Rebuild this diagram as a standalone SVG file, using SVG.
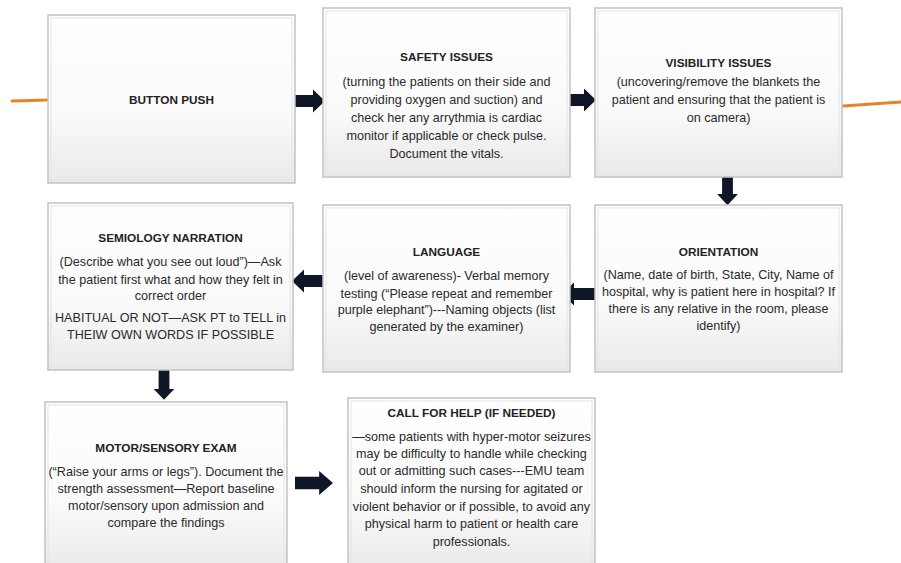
<svg xmlns="http://www.w3.org/2000/svg" width="901" height="563" viewBox="0 0 901 563">
<defs>
<linearGradient id="boxfill" x1="0" y1="0" x2="0" y2="1">
<stop offset="0" stop-color="#ffffff"/>
<stop offset="0.6" stop-color="#fafafa"/>
<stop offset="1" stop-color="#e9e9e9"/>
</linearGradient>
<path id="arrR" d="M0,-6 H21 V-11.5 L33,0 L21,11.5 V6 H0 Z"/>
</defs>
<style>
.box{fill:url(#boxfill);stroke:#c2c2c2;stroke-width:1.5}
.inner{fill:none;stroke:#e4e4e4;stroke-width:1}
.t{font-family:"Liberation Sans",Arial,sans-serif;font-weight:bold;font-size:11.8px;fill:#222222;text-anchor:middle}
.b{font-family:"Liberation Sans",Arial,sans-serif;font-size:12.6px;fill:#2a2a2a;text-anchor:middle}
.arr{fill:#0e1628}
.orange{stroke:#e8822a;stroke-width:3;stroke-linecap:round;fill:none}
</style>
<rect width="901" height="563" fill="#ffffff"/>

<g id="connectors">
<line class="orange" x1="12" y1="101" x2="48" y2="100"/>
<line class="orange" x1="843" y1="106" x2="901" y2="102"/>
<use href="#arrR" class="arr" transform="translate(292,101)"/>
<use href="#arrR" class="arr" transform="translate(563,100)"/>
<use href="#arrR" class="arr" transform="translate(727.5,174) rotate(90) scale(0.95,0.9)"/>
<use href="#arrR" class="arr" transform="translate(595,294) rotate(180)"/>
<use href="#arrR" class="arr" transform="translate(325,281) rotate(180)"/>
<use href="#arrR" class="arr" transform="translate(164,370) rotate(90) scale(0.9,0.9)"/>
<use href="#arrR" class="arr" transform="translate(295,483) scale(1.15,1.05)"/>
</g>

<g id="button-push">
<rect class="box" x="48" y="15" width="247" height="168"/>
<rect class="inner" x="51" y="18" width="241" height="162"/>
<text class="t" x="171.5" y="104">BUTTON PUSH</text>
</g>

<g id="safety-issues">
<rect class="box" x="323" y="8" width="247" height="169"/>
<rect class="inner" x="326" y="11" width="241" height="163"/>
<text class="t" x="446.5" y="61">SAFETY ISSUES</text>
<text class="b" x="446.5" y="86">(turning the patients on their side and</text>
<text class="b" x="446.5" y="104">providing oxygen and suction) and</text>
<text class="b" x="446.5" y="122">check her any arrythmia is cardiac</text>
<text class="b" x="446.5" y="140">monitor if applicable or check pulse.</text>
<text class="b" x="446.5" y="158">Document the vitals.</text>
</g>

<g id="visibility-issues">
<rect class="box" x="595" y="8" width="247" height="169"/>
<rect class="inner" x="598" y="11" width="241" height="163"/>
<text class="t" x="718.5" y="67">VISIBILITY ISSUES</text>
<text class="b" x="718.5" y="86">(uncovering/remove the blankets the</text>
<text class="b" x="718.5" y="104">patient and ensuring that the patient is</text>
<text class="b" x="718.5" y="122">on camera)</text>
</g>

<g id="orientation">
<rect class="box" x="595" y="205" width="247" height="167"/>
<rect class="inner" x="598" y="208" width="241" height="161"/>
<text class="t" x="718.5" y="256">ORIENTATION</text>
<text class="b" x="718.5" y="279">(Name, date of birth, State, City, Name of</text>
<text class="b" x="718.5" y="296">hospital, why is patient here in hospital? If</text>
<text class="b" x="718.5" y="313">there is any relative in the room, please</text>
<text class="b" x="718.5" y="330">identify)</text>
</g>

<g id="language">
<rect class="box" x="323" y="205" width="247" height="167"/>
<rect class="inner" x="326" y="208" width="241" height="161"/>
<text class="t" x="446.5" y="256">LANGUAGE</text>
<text class="b" x="446.5" y="280">(level of awareness)- Verbal memory</text>
<text class="b" x="446.5" y="298">testing (“Please repeat and remember</text>
<text class="b" x="446.5" y="314">purple elephant”)---Naming objects (list</text>
<text class="b" x="446.5" y="331">generated by the examiner)</text>
</g>

<g id="semiology-narration">
<rect class="box" x="48" y="203" width="245" height="167"/>
<rect class="inner" x="51" y="206" width="239" height="161"/>
<text class="t" x="170.5" y="242">SEMIOLOGY NARRATION</text>
<text class="b" x="170.5" y="266">(Describe what you see out loud”)—Ask</text>
<text class="b" x="170.5" y="284">the patient first what and how they felt in</text>
<text class="b" x="170.5" y="300">correct order</text>
<text class="b" x="170.5" y="322">HABITUAL OR NOT—ASK PT to TELL in</text>
<text class="b" x="170.5" y="339">THEIW OWN WORDS IF POSSIBLE</text>
</g>

<g id="motor-sensory-exam">
<rect class="box" x="45" y="402" width="242" height="170"/>
<rect class="inner" x="48" y="405" width="236" height="170"/>
<text class="t" x="166" y="452">MOTOR/SENSORY EXAM</text>
<text class="b" x="166" y="476">(“Raise your arms or legs”).  Document the</text>
<text class="b" x="166" y="493">strength assessment—Report baseline</text>
<text class="b" x="166" y="510">motor/sensory upon admission and</text>
<text class="b" x="166" y="527">compare the findings</text>
</g>

<g id="call-for-help">
<rect class="box" x="348" y="398" width="247" height="174"/>
<rect class="inner" x="351" y="401" width="241" height="174"/>
<text class="t" x="471.5" y="417">CALL FOR HELP (IF NEEDED)</text>
<text class="b" x="471.5" y="441">—some patients with hyper-motor seizures</text>
<text class="b" x="471.5" y="458">may be difficulty to handle while checking</text>
<text class="b" x="471.5" y="475">out or admitting such cases---EMU team</text>
<text class="b" x="471.5" y="493">should inform the nursing for agitated or</text>
<text class="b" x="471.5" y="511">violent behavior or if possible, to avoid any</text>
<text class="b" x="471.5" y="528">physical harm to patient or health care</text>
<text class="b" x="471.5" y="546">professionals.</text>
</g>
</svg>
